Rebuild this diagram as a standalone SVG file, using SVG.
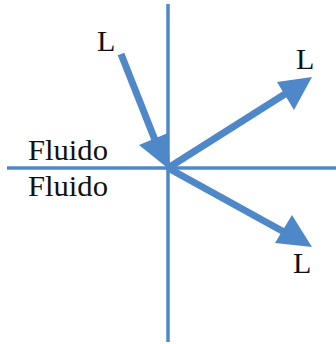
<svg xmlns="http://www.w3.org/2000/svg" width="336" height="344" viewBox="0 0 336 344">
<defs>
<style>
.ax{stroke:#4f88c8;stroke-width:3.5;fill:none}
.ar{stroke:#4f88c8;stroke-width:7;fill:none}
.hd{fill:#4f88c8}
.t{font-family:'Liberation Serif','Times New Roman',Times,serif;font-size:30px;fill:#111}
</style>
</defs>
<g id="axes">
<line class="ax" x1="168" y1="4" x2="168" y2="342"/>
<line class="ax" x1="7" y1="168" x2="336" y2="168"/>
</g>
<g id="connectors">
<line class="ar" x1="121" y1="54" x2="155" y2="140"/>
<polygon class="hd" points="170,170 139,145 168,133"/>
<line class="ar" x1="168" y1="168" x2="285" y2="94"/>
<polygon class="hd" points="312,77 277,82 294,110"/>
<line class="ar" x1="168" y1="168" x2="284" y2="232"/>
<polygon class="hd" points="312,247 275,243 292,215"/>
</g>
<g id="labels">
<text class="t" x="97" y="51" font-family="Liberation Serif">L</text>
<text class="t" x="296" y="69" font-family="Liberation Serif">L</text>
<text class="t" x="293" y="273" font-family="Liberation Serif">L</text>
<text class="t" x="28" y="160" textLength="80" lengthAdjust="spacingAndGlyphs">Fluido</text>
<text class="t" x="28" y="196" textLength="80" lengthAdjust="spacingAndGlyphs">Fluido</text>
</g>
</svg>
